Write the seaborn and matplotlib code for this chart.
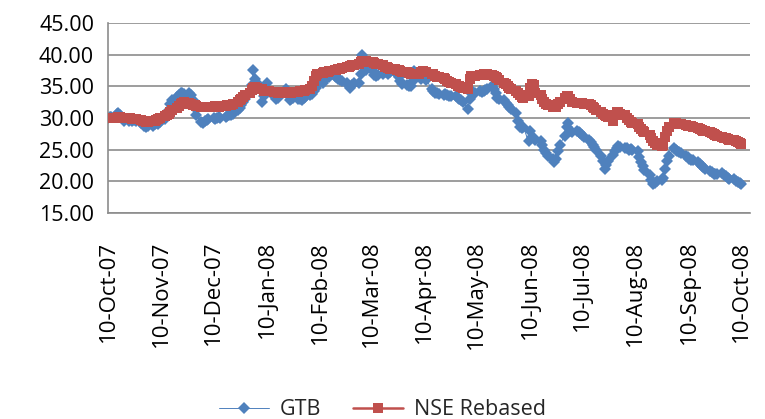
import numpy as np
import pandas as pd
import matplotlib
matplotlib.use("Agg")
import matplotlib.pyplot as plt
import matplotlib.dates as mdates
from matplotlib.ticker import FormatStrFormatter
import seaborn as sns

# trading days, 10-Oct-07 .. 10-Oct-08 (one row per week)
gtb_weeks = [
    [30.0, 30.1, 30.2],
    [30.6, 30.8, 30.5, 30.0, 29.6],
    [29.5, 29.8, 29.6, 29.7, 29.5],
    [29.2, 29.0, 28.8, 28.6, 28.7],
    [28.8, 29.0, 29.2, 29.0, 29.3],
    [29.8, 30.3, 31.2, 32.2, 32.8],
    [33.3, 33.6, 33.9, 34.0, 33.8],
    [34.0, 33.6, 32.8, 31.5, 30.4],
    [29.4, 29.2, 29.5, 29.7, 29.9],
    [30.0, 29.8, 30.0, 30.2, 30.0],
    [30.1, 30.3, 30.4, 30.5, 30.6],
    [31.2, 31.6, 32.0, 32.5, 33.0],
    [34.2, 35.2, 37.6, 36.2, 35.6],
    [32.5, 33.5, 34.8, 35.6, 34.2],
    [33.5, 33.0, 33.2, 33.6, 34.0],
    [34.6, 33.8, 32.8, 33.0, 33.2],
    [33.0, 33.0, 32.9, 33.1, 33.3],
    [33.6, 33.8, 34.2, 34.8, 35.4],
    [35.6, 36.0, 36.4, 36.6, 36.5],
    [36.6, 36.5, 36.2, 36.0, 35.8],
    [35.6, 35.0, 34.7, 35.2, 35.6],
    [35.6, 37.0, 40.0, 38.2, 37.6],
    [38.0, 37.4, 36.8, 36.6, 36.8],
    [37.0, 37.3, 37.2, 37.0, 37.3],
    [37.3, 37.0, 36.5, 35.8, 35.4],
    [35.2, 35.0, 35.0, 35.8, 37.4],
    [36.8, 36.2, 36.4, 36.6, 36.0],
    [34.6, 34.2, 34.0, 33.9, 33.8],
    [33.7, 33.8, 33.6, 33.5, 33.4],
    [33.4, 33.2, 33.0, 32.8, 32.6],
    [31.4, 33.0, 34.0, 34.1, 34.0],
    [34.2, 34.1, 34.2, 34.4, 34.6],
    [35.0, 34.6, 34.0, 33.2, 33.0],
    [32.8, 32.4, 32.1, 31.8, 31.4],
    [30.8, 29.6, 28.6, 28.4, 28.6],
    [26.3, 28.0, 27.0, 26.8, 26.6],
    [26.4, 25.8, 25.0, 24.4, 24.0],
    [23.6, 23.0, 23.5, 24.8, 25.8],
    [27.2, 28.6, 29.2, 28.0, 27.8],
    [28.0, 27.8, 27.6, 27.3, 27.0],
    [26.6, 26.2, 25.8, 25.4, 25.0],
    [24.0, 23.2, 22.0, 22.6, 23.2],
    [24.2, 24.8, 25.3, 25.6, 25.4],
    [25.3, 25.2, 25.0, 25.1, 25.0],
    [24.8, 23.8, 23.0, 22.4, 21.8],
    [21.0, 20.2, 19.6, 19.8, 20.0],
    [20.2, 20.6, 22.0, 23.2, 24.0],
    [25.3, 25.0, 24.8, 24.6, 24.4],
    [24.0, 23.8, 23.6, 23.4, 23.3],
    [23.0, 22.7, 22.4, 22.2, 21.9],
    [21.6, 21.4, 21.2, 21.1, 21.2],
    [21.3, 21.0, 20.8, 20.6, 20.4],
    [20.3, 20.1, 19.9, 19.8, 19.6],
]

nse_weeks = [
    [30.0, 30.0, 30.0],
    [30.0, 30.1, 30.1, 30.0, 30.0],
    [30.0, 30.0, 29.9, 29.9, 29.8],
    [29.7, 29.6, 29.5, 29.4, 29.4],
    [29.5, 29.6, 29.7, 29.8, 30.0],
    [30.3, 30.5, 30.7, 31.0, 31.3],
    [31.6, 31.9, 32.2, 32.4, 32.5],
    [32.4, 32.2, 32.1, 32.0, 31.9],
    [31.8, 31.8, 31.8, 31.8, 31.8],
    [31.8, 31.9, 31.8, 31.8, 31.9],
    [31.9, 32.0, 32.0, 32.1, 32.2],
    [32.5, 32.8, 33.0, 33.3, 33.6],
    [34.0, 34.4, 34.8, 34.9, 34.7],
    [34.5, 34.3, 34.3, 34.2, 34.2],
    [34.1, 34.1, 34.0, 34.1, 34.1],
    [34.1, 34.0, 34.0, 34.0, 34.1],
    [34.1, 34.2, 34.2, 34.3, 34.4],
    [34.6, 35.0, 35.8, 36.6, 36.9],
    [37.1, 37.2, 37.3, 37.3, 37.4],
    [37.5, 37.6, 37.7, 37.8, 37.9],
    [38.0, 38.1, 38.2, 38.3, 38.4],
    [38.6, 38.8, 39.0, 39.0, 39.0],
    [38.9, 38.8, 38.7, 38.6, 38.5],
    [38.3, 38.1, 38.0, 37.9, 37.8],
    [37.7, 37.6, 37.5, 37.4, 37.3],
    [37.2, 37.1, 37.0, 36.9, 36.9],
    [37.0, 37.3, 37.4, 37.3, 37.2],
    [37.0, 36.9, 36.7, 36.5, 36.4],
    [36.3, 36.1, 35.9, 35.7, 35.5],
    [35.3, 35.1, 35.0, 34.9, 34.8],
    [34.6, 36.2, 36.6, 36.7, 36.7],
    [36.8, 36.8, 36.9, 36.9, 36.9],
    [36.8, 36.7, 36.5, 36.3, 36.0],
    [35.6, 35.3, 35.0, 34.7, 34.5],
    [34.2, 34.0, 33.6, 33.3, 33.2],
    [33.5, 34.8, 35.4, 35.2, 34.0],
    [33.6, 33.0, 32.5, 32.2, 32.0],
    [31.8, 31.7, 31.8, 32.2, 32.6],
    [33.2, 33.5, 33.4, 33.0, 32.6],
    [32.4, 32.3, 32.3, 32.3, 32.2],
    [32.2, 32.1, 31.8, 31.5, 31.3],
    [31.0, 30.7, 30.5, 30.3, 30.2],
    [29.6, 30.4, 31.0, 30.9, 30.6],
    [30.4, 30.0, 29.7, 29.4, 29.2],
    [29.0, 28.6, 28.3, 28.0, 27.8],
    [27.3, 26.8, 26.3, 26.0, 25.8],
    [25.6, 25.8, 27.0, 28.0, 28.6],
    [29.2, 29.2, 29.1, 29.0, 29.0],
    [28.9, 28.8, 28.8, 28.7, 28.6],
    [28.4, 28.3, 28.1, 28.0, 27.9],
    [27.8, 27.6, 27.5, 27.3, 27.2],
    [27.0, 26.9, 26.8, 26.7, 26.6],
    [26.5, 26.3, 26.2, 26.0, 25.9],
]

gtb = [v for w in gtb_weeks for v in w]
nse = [v for w in nse_weeks for v in w]
dates = pd.bdate_range("2007-10-10", "2008-10-10")
assert len(dates) == len(gtb) == len(nse), (len(dates), len(gtb), len(nse))

df = pd.DataFrame({"date": dates, "GTB": gtb, "NSE Rebased": nse})

blue = "#4F81BD"
red = "#C0504D"
grid_c = "#8C8C8C"

sns.set_style("white")
plt.rcParams["font.family"] = ["Open Sans", "DejaVu Sans"]

fig = plt.figure(figsize=(7.65, 4.19), dpi=100)
ax = fig.add_axes([108 / 765, 1 - 213 / 419, (750 - 108) / 765, (213 - 23) / 419])

sns.lineplot(data=df, x="date", y="NSE Rebased", ax=ax, color=red, lw=1.8,
             marker="s", markersize=7.5, markeredgewidth=0, label="NSE Rebased", zorder=3)
sns.lineplot(data=df, x="date", y="GTB", ax=ax, color=blue, lw=0.7,
             marker="D", markersize=6.5, markeredgewidth=0, label="GTB", zorder=2)

ax.set_ylim(15, 45)
ax.set_yticks(np.arange(15, 46, 5))
ax.yaxis.set_major_formatter(FormatStrFormatter("%.2f"))
ax.set_xlim(pd.Timestamp("2007-10-10"), pd.Timestamp("2008-10-15"))
ax.xaxis.set_major_locator(mdates.MonthLocator(bymonthday=10))
ax.xaxis.set_major_formatter(mdates.DateFormatter("%d-%b-%y"))
plt.setp(ax.get_xticklabels(), rotation=90)

ax.grid(axis="y", color=grid_c, lw=1.2)
ax.grid(axis="x", visible=False)
ax.set_axisbelow(True)
for s in ["top", "right"]:
    ax.spines[s].set_visible(False)
for s in ["left", "bottom"]:
    ax.spines[s].set_color(grid_c)
    ax.spines[s].set_linewidth(1.2)
ax.tick_params(axis="both", colors=grid_c, width=1.2, labelcolor="black", labelsize=15.5)
ax.tick_params(axis="y", length=6, pad=4)
ax.tick_params(axis="x", length=8, pad=12, labelsize=16)
ax.set_xlabel("")
ax.set_ylabel("")

h, l = ax.get_legend_handles_labels()
ax.get_legend().remove()
fig.legend(h[::-1], l[::-1], loc="center", bbox_to_anchor=(0.5, 0.022), ncol=2,
           frameon=False, fontsize=15.5, handlelength=2.3, handletextpad=0.5,
           columnspacing=1.5)

fig.savefig("out.png", dpi=100)
